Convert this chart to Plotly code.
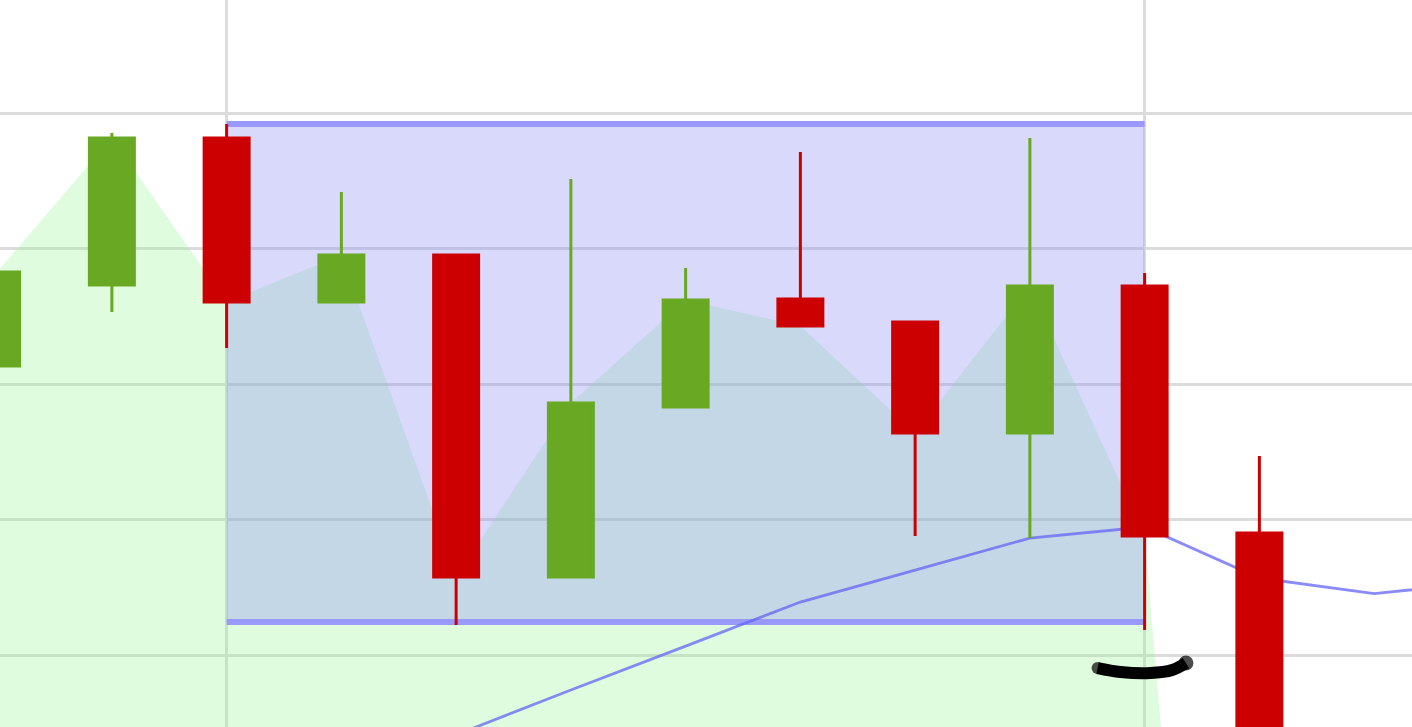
import plotly.graph_objects as go

# ---- data (y in price units, x = bar index) ----
bar_index = [-1, 0, 1, 2, 3, 4, 5, 6, 7, 8, 9, 10]
open_px = [131.33, 137.31, 148.15, 136.05, 139.52, 115.76, 128.31, 136.27, 134.58, 126.38, 137.23, 119.00]
high_px = [144.54, 148.52, 149.19, 144.17, 139.52, 145.13, 138.56, 147.12, 134.58, 148.15, 138.19, 124.69]
low_px = [131.33, 135.31, 132.66, 136.05, 112.21, 115.76, 128.31, 134.28, 118.78, 118.63, 111.85, 18.00]
close_px = [138.27, 148.15, 136.05, 139.52, 115.76, 128.60, 136.20, 134.28, 126.38, 137.23, 118.78, 20.00]

ma_index = [2, 3, 4, 5, 6, 7, 8, 9, 10, 11, 12]
ma_values = [100.8, 104.10, 107.42, 110.66, 113.91, 116.27, 118.63, 119.45, 115.68, 114.54, 115.39]

range_box_x = [1, 9]
range_box_y = [112.44, 149.19]

mark_x = [8.59, 8.79, 9.05, 9.24, 9.36]
mark_y = [109.04, 108.75, 108.67, 108.89, 109.41]

grid_values = [110, 120, 130, 140, 150]

X_RANGE = [-0.975, 11.33]
Y_RANGE = [104.69, 158.34]

GREEN = "#69A823"
RED = "#CC0000"

fig = go.Figure()

# close-price area
fig.add_trace(go.Scatter(
    x=bar_index, y=close_px, mode="lines", fill="tozeroy",
    line=dict(width=0, color="rgba(0,0,0,0)"),
    fillcolor="rgba(150,245,150,0.3)", hoverinfo="skip", showlegend=False))

# range box fill
bx0, bx1 = range_box_x
by0, by1 = range_box_y
fig.add_trace(go.Scatter(
    x=[bx0, bx1, bx1, bx0, bx0], y=[by0, by0, by1, by1, by0],
    mode="lines", fill="toself", line=dict(width=0),
    fillcolor="rgba(133,133,245,0.31)", hoverinfo="skip", showlegend=False))

# range box top / bottom borders
for yy in range_box_y:
    fig.add_trace(go.Scatter(
        x=range_box_x, y=[yy, yy], mode="lines",
        line=dict(color="#9999FA", width=6),
        hoverinfo="skip", showlegend=False))

# moving average
fig.add_trace(go.Scatter(
    x=ma_index, y=ma_values, mode="lines",
    line=dict(color="rgba(100,100,245,0.75)", width=2.8),
    hoverinfo="skip", showlegend=False))

# candles (on an overlaid axis pair so they sit above the fills)
fig.add_trace(go.Candlestick(
    x=bar_index, open=open_px, high=high_px, low=low_px, close=close_px,
    increasing=dict(line=dict(color=GREEN, width=3), fillcolor=GREEN),
    decreasing=dict(line=dict(color=RED, width=3), fillcolor=RED),
    whiskerwidth=0, hoverinfo="skip", showlegend=False,
    xaxis="x2", yaxis="y2"))

# hand-drawn black mark
fig.add_trace(go.Scatter(
    x=mark_x, y=mark_y, mode="lines+markers",
    line=dict(color="black", width=12, shape="spline"),
    marker=dict(color="black", size=[12, 0, 0, 0, 15], line=dict(width=0)),
    hoverinfo="skip", showlegend=False, xaxis="x2", yaxis="y2"))

fig.update_layout(
    width=1412, height=727,
    margin=dict(l=0, r=0, t=0, b=0),
    paper_bgcolor="white", plot_bgcolor="white",
    showlegend=False,
    boxgap=0.44,
    xaxis=dict(range=X_RANGE, tickmode="array", tickvals=range_box_x,
               showticklabels=False, showgrid=True, gridcolor="#DCDCDC", gridwidth=2.5,
               zeroline=False, showline=False, rangeslider=dict(visible=False)),
    yaxis=dict(range=Y_RANGE, tickmode="array", tickvals=grid_values,
               showticklabels=False, showgrid=True, gridcolor="#DCDCDC", gridwidth=3,
               zeroline=False, showline=False),
    xaxis2=dict(range=X_RANGE, overlaying="x", showticklabels=False, showgrid=False,
                zeroline=False, showline=False, rangeslider=dict(visible=False)),
    yaxis2=dict(range=Y_RANGE, overlaying="y", showticklabels=False, showgrid=False,
                zeroline=False, showline=False),
)

fig.write_html(
    "out.html",
    config={"displayModeBar": False},
    post_script="document.body.style.margin='0';document.body.style.overflow='hidden';",
)
